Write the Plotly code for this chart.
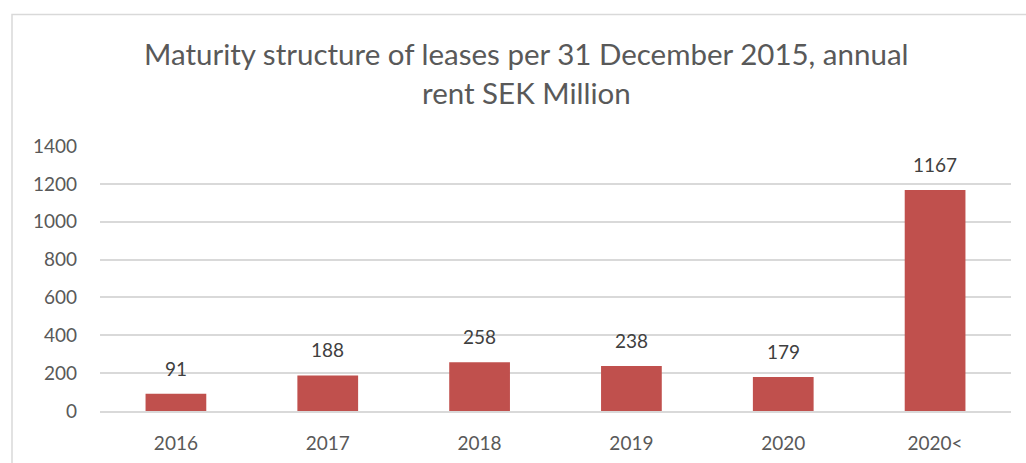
import plotly.graph_objects as go

categories = ["2016", "2017", "2018", "2019", "2020", "2020<"]
values = [91, 188, 258, 238, 179, 1167]
title_lines = ["Maturity structure of leases per 31 December 2015, annual", "rent SEK Million"]
y_ticks = [0, 200, 400, 600, 800, 1000, 1200, 1400]

FONT = "Lato"
W, H = 1026, 463
PLOT_LEFT, PLOT_RIGHT, PLOT_TOP, PLOT_BOTTOM = 100, 1011, 146, 411  # page pixels
L = PLOT_LEFT
R = W - PLOT_RIGHT
T = PLOT_TOP
B = H - PLOT_BOTTOM
pw, ph = W - L - R, H - T - B

def px_x(x):
    return (x - L) / pw

def px_y(y):
    return (H - B - y) / ph

idx = list(range(len(categories)))

fig = go.Figure()
fig.add_trace(go.Bar(
    x=idx, y=values,
    marker=dict(color="#C0504D", line=dict(width=0)),
    hoverinfo="skip",
))

annotations = []
for i, v in zip(idx, values):
    annotations.append(dict(
        x=i, y=v, xref="x", yref="y", text=str(v), showarrow=False,
        yanchor="bottom", yshift=12,
        font=dict(family=FONT, size=19, color="#404040"),
    ))
title_centers = [53, 92]
for line, yc in zip(title_lines, title_centers):
    annotations.append(dict(
        x=px_x(526), y=px_y(yc), xref="paper", yref="paper", text=line,
        showarrow=False, xanchor="center", yanchor="middle",
        font=dict(family=FONT, size=29.5, color="#595959"),
    ))

fx0, fx1 = px_x(12), px_x(1040)
fy0, fy1 = px_y(480), px_y(14.5)
frame_path = f"M {fx0} {fy0} L {fx0} {fy1} L {fx1} {fy1}"

fig.update_layout(
    width=W, height=H,
    margin=dict(l=L, r=R, t=T, b=B, autoexpand=False),
    paper_bgcolor="white", plot_bgcolor="white",
    showlegend=False,
    bargap=0.6,
    annotations=annotations,
    shapes=[dict(
        type="path", xref="paper", yref="paper", path=frame_path,
        line=dict(color="#D9D9D9", width=1.5),
        layer="below",
    )],
    xaxis=dict(
        range=[-0.5, len(categories) - 0.5],
        tickvals=idx, ticktext=categories,
        showgrid=False, zeroline=False,
        showline=True, linecolor="#D9D9D9", linewidth=1.5,
        ticks="", ticklabelstandoff=14, automargin=False,
        tickfont=dict(family=FONT, size=19, color="#595959"),
    ),
    yaxis=dict(
        range=[0, 1400], tickvals=y_ticks, ticktext=[str(t) for t in y_ticks],
        showgrid=True, gridcolor="#D9D9D9", gridwidth=1.5,
        zeroline=False, showline=False, automargin=False,
        ticks="", ticklabelstandoff=22,
        tickfont=dict(family=FONT, size=19, color="#595959"),
    ),
)

fig.write_html(
    "out.html",
    config={"displayModeBar": False},
    post_script="document.body.style.margin='0';document.body.style.overflow='hidden';",
)
